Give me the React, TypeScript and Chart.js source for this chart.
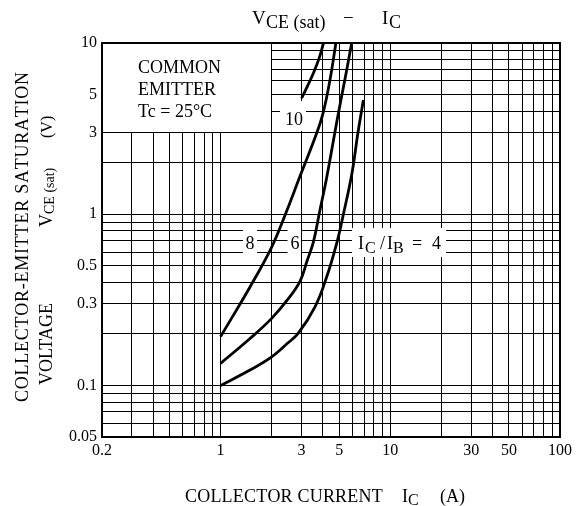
import React, { useEffect, useRef } from 'react';
import { Chart, registerables } from 'chart.js';

Chart.register(...registerables);

// Grid / tick values
const xGrid = [0.2, 0.3, 0.4, 0.5, 0.6, 0.7, 0.8, 0.9, 1, 2, 3, 4, 5, 6, 7, 8, 9, 10, 20, 30, 40, 50, 60, 70, 80, 90, 100];
const yGrid = [0.05, 0.06, 0.07, 0.08, 0.09, 0.1, 0.2, 0.3, 0.4, 0.5, 0.6, 0.7, 0.8, 0.9, 1, 2, 3, 4, 5, 6, 7, 8, 9, 10];
const xTickLabels = [0.2, 1, 3, 5, 10, 30, 50, 100];
const yTickLabels = [0.05, 0.1, 0.3, 0.5, 1, 3, 5, 10];

// IC/IB = 10
const ratio10X = [3.0, 3.25, 3.52, 3.8, 4.04];
const ratio10Y = [4.76, 5.6, 6.66, 8.1, 10];
// IC/IB = 8
const ratio8X = [1.0, 1.49, 2.0, 2.4, 2.94, 3.68, 4.03, 4.41, 4.78];
const ratio8Y = [0.193, 0.376, 0.643, 0.99, 1.67, 2.97, 3.95, 6.08, 10];
// IC/IB = 6
const ratio6X = [1.0, 1.49, 2.0, 2.5, 2.94, 3.23, 3.52, 3.85, 4.2, 4.94, 5.45, 5.92];
const ratio6Y = [0.1346, 0.188, 0.2465, 0.32, 0.407, 0.533, 0.688, 1.058, 1.6, 3.88, 6.41, 10];
// IC/IB = 4
const ratio4X = [1.0, 1.49, 2.0, 2.45, 2.87, 3.6, 4.22, 4.83, 5.28, 5.94, 6.44, 6.94];
const ratio4Y = [0.1, 0.123, 0.147, 0.1745, 0.202, 0.288, 0.431, 0.676, 0.99, 1.73, 2.97, 4.64];

const SERIF = '"Liberation Serif", "Times New Roman", serif';
const f = (size: number) => `${size}px ${SERIF}`;

function toPoints(xs: number[], ys: number[]) {
  return xs.map((x, i) => ({ x, y: ys[i] }));
}

function spaced(ctx: CanvasRenderingContext2D, text: string, x: number, y: number, spacing: number) {
  let cx = x;
  for (const ch of text) {
    ctx.fillText(ch, cx, y);
    cx += ctx.measureText(ch).width + spacing;
  }
  return cx;
}

function spacedWidth(ctx: CanvasRenderingContext2D, text: string) {
  let w = 0;
  for (const ch of text) w += ctx.measureText(ch).width;
  return w;
}

const decorPlugin = {
  id: 'decor',
  beforeDatasetsDraw(chart: any) {
    const { ctx, chartArea: a, scales } = chart;
    const xs = scales.x;
    const ys = scales.y;
    ctx.save();
    ctx.fillStyle = '#fff';
    // legend box region (0.2..2, 3..10)
    const bx2 = Math.round(xs.getPixelForValue(2) - 0.5);
    const by3 = Math.round(ys.getPixelForValue(3) - 0.5);
    ctx.fillRect(a.left + 1, a.top + 1, bx2 - (a.left + 1), by3 - (a.top + 1));
    // label boxes
    const boxes = [
      [243, 227, 14, 30],
      [287.5, 227, 13.5, 30],
      [280, 101, 26, 30],
      [352, 228, 94, 29],
    ];
    boxes.forEach(([x, y, w, h]) => ctx.fillRect(x, y, w, h));
    ctx.restore();
  },
  afterDraw(chart: any) {
    const { ctx, chartArea: a } = chart;
    ctx.save();
    // frame
    ctx.strokeStyle = '#000';
    ctx.lineWidth = 2;
    ctx.strokeRect(a.left, a.top, a.right - a.left, a.bottom - a.top);

    ctx.fillStyle = '#000';
    ctx.textAlign = 'left';
    ctx.textBaseline = 'alphabetic';

    // Title
    ctx.font = f(19);
    ctx.fillText('V', 252, 24);
    ctx.font = f(18);
    ctx.fillText('CE (sat)', 266, 28);
    ctx.font = f(19);
    ctx.fillText('\u2212', 343, 24);
    ctx.fillText('I', 382, 24);
    ctx.font = f(18);
    ctx.fillText('C', 389, 28);

    // Legend text
    ctx.font = f(18);
    ctx.fillText('COMMON', 138, 73);
    ctx.fillText('EMITTER', 138, 95);
    ctx.fillText('Tc = 25\u00B0C', 138, 117);

    // Curve labels
    ctx.font = f(18);
    ctx.textAlign = 'center';
    ctx.fillText('8', 250, 249);
    ctx.fillText('6', 295, 249);
    ctx.textAlign = 'left';
    ctx.fillText('10', 285, 125);
    ctx.fillText('I', 358, 248.5);
    ctx.font = f(16);
    ctx.fillText('C', 365, 253);
    ctx.font = f(18);
    ctx.fillText('/', 380, 248.5);
    ctx.fillText('I', 387, 248.5);
    ctx.font = f(16);
    ctx.fillText('B', 393, 253);
    ctx.font = f(18);
    ctx.fillText('=', 412, 248.5);
    ctx.fillText('4', 432, 248.5);

    // X axis title
    ctx.font = f(18);
    spaced(ctx, 'COLLECTOR CURRENT', 185, 502, 0.2);
    ctx.fillText('I', 402, 502);
    ctx.font = f(16);
    ctx.fillText('C', 408, 505);
    ctx.font = f(18);
    ctx.fillText('(A)', 440, 502);

    // Y axis title, line 1
    ctx.save();
    ctx.translate(28.3, 402);
    ctx.rotate(-Math.PI / 2);
    ctx.font = f(18);
    const line1 = 'COLLECTOR-EMITTER SATURATION';
    const w1 = spacedWidth(ctx, line1);
    const sp1 = (330 - w1) / (line1.length - 1);
    spaced(ctx, line1, 0, 0, sp1);
    ctx.restore();

    // Y axis title, line 2
    ctx.save();
    ctx.translate(51.7, 385);
    ctx.rotate(-Math.PI / 2);
    ctx.font = f(18);
    ctx.fillText('VOLTAGE', 0, 0);
    ctx.fillText('V', 158, 0);
    ctx.font = f(14);
    ctx.fillText('CE (sat)', 171, 2);
    ctx.font = f(16);
    ctx.fillText('(V)', 247, 0);
    ctx.restore();

    ctx.restore();
  },
};

export default function App() {
  const ref = useRef<HTMLCanvasElement | null>(null);

  useEffect(() => {
    if (!ref.current) return;
    const lineStyle = {
      borderColor: '#000',
      borderWidth: 2.8,
      pointRadius: 0,
      showLine: true,
      fill: false,
      tension: 0.4,
    };
    const chart = new Chart(ref.current, {
      type: 'scatter',
      data: {
        datasets: [
          { label: '10', data: toPoints(ratio10X, ratio10Y), ...lineStyle },
          { label: '8', data: toPoints(ratio8X, ratio8Y), ...lineStyle },
          { label: '6', data: toPoints(ratio6X, ratio6Y), ...lineStyle },
          { label: '4', data: toPoints(ratio4X, ratio4Y), ...lineStyle },
        ],
      },
      options: {
        responsive: false,
        animation: false,
        events: [],
        layout: { padding: { left: 0, right: 23, top: 43, bottom: 0 } },
        plugins: {
          legend: { display: false },
          tooltip: { enabled: false },
          title: { display: false },
        },
        scales: {
          x: {
            type: 'logarithmic',
            min: 0.2,
            max: 100,
            afterBuildTicks: (s: any) => {
              s.ticks = xGrid.map((v) => ({ value: v }));
            },
            afterFit: (s: any) => {
              s.height = 69;
            },
            ticks: {
              autoSkip: false,
              maxRotation: 0,
              minRotation: 0,
              padding: 4,
              color: '#000',
              font: { family: SERIF, size: 16 },
              callback: (v: any) => (xTickLabels.includes(Number(v)) ? String(v) : ''),
            },
            grid: { color: '#000', lineWidth: 1, drawTicks: false },
            border: { display: true, color: '#000', width: 2 },
          },
          y: {
            type: 'logarithmic',
            min: 0.05,
            max: 10,
            afterBuildTicks: (s: any) => {
              s.ticks = yGrid.map((v) => ({ value: v }));
            },
            afterFit: (s: any) => {
              s.width = 102;
            },
            ticks: {
              autoSkip: false,
              padding: 5,
              color: '#000',
              font: { family: SERIF, size: 16 },
              callback: (v: any) => (yTickLabels.includes(Number(v)) ? String(v) : ''),
            },
            grid: { color: '#000', lineWidth: 1, drawTicks: false },
            border: { display: true, color: '#000', width: 2 },
          },
        },
      },
      plugins: [decorPlugin],
    });
    return () => chart.destroy();
  }, []);

  return (
    <div style={{ position: 'absolute', left: 0, top: 0, width: 583, height: 506, background: '#fff' }}>
      <canvas ref={ref} width={583} height={506} style={{ display: 'block' }} />
    </div>
  );
}
